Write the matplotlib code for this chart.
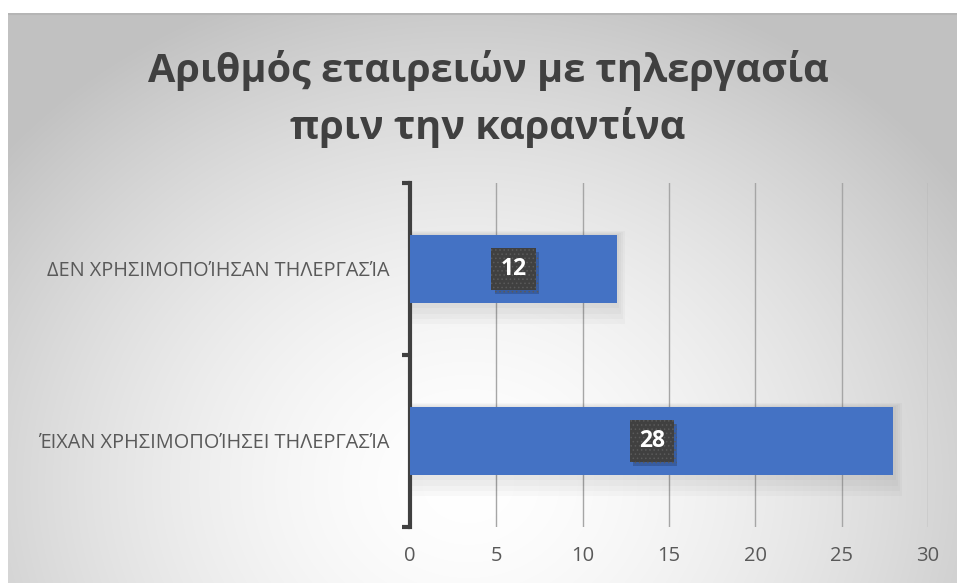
import numpy as np
import matplotlib
matplotlib.use("Agg")
import matplotlib.pyplot as plt
import matplotlib.patheffects as pe

categories = ["ΔΕΝ ΧΡΗΣΙΜΟΠΟΊΗΣΑΝ ΤΗΛΕΡΓΑΣΊΑ", "ΈΙΧΑΝ ΧΡΗΣΙΜΟΠΟΊΗΣΕΙ ΤΗΛΕΡΓΑΣΊΑ"]
values = [12, 28]
xticks = [0, 5, 10, 15, 20, 25, 30]
title = "Αριθμός εταιρειών με τηλεργασία\nπριν την καραντίνα"

plt.rcParams['font.family'] = ['Open Sans', 'DejaVu Sans']
plt.rcParams['hatch.color'] = '#5a5a5a'
plt.rcParams['hatch.linewidth'] = 0.6

W, H = 957, 583
fig = plt.figure(figsize=(W / 100, H / 100), dpi=100)
fig.patch.set_facecolor('white')

# background radial gradient panel
x0, y0 = 8, 13
bg = fig.add_axes([x0 / W, 0, 1 - x0 / W, (H - y0) / H])
bg.set_axis_off()
nx, ny = W - x0, H - y0
xx, yy = np.meshgrid(np.arange(nx), np.arange(ny))
cx, cy = 460, 470
r = np.sqrt(((xx - cx) / 600.0) ** 2 + ((yy - cy) / 520.0) ** 2)
g = np.clip(1.0 - 0.24 * r ** 1.6, 0.76, 1.0)
img = np.dstack([g, g, g])
bg.imshow(img, aspect='auto', extent=[0, nx, ny, 0])
bg.set_xlim(0, nx)
bg.set_ylim(ny, 0)
bg.plot([0, nx], [0.5, 0.5], color='#b5b5b5', lw=1.5)

# main axes
left, right, top, bottom = 410, 928, 183, 527
ax = fig.add_axes([left / W, 1 - bottom / H, (right - left) / W, (bottom - top) / H])
ax.set_facecolor('none')

ypos = np.arange(len(categories))
# soft shadow
for k in range(4):
    ax.barh(ypos + 0.012 * (k + 1), np.array(values) + 0.12 * (k + 1), height=0.40 + 0.035 * (k + 1),
            color='#000000', alpha=0.025, zorder=2, linewidth=0)
ax.barh(ypos, values, height=0.40, color='#4472C4', zorder=3)

ax.set_xlim(0, 30)
ax.set_ylim(1.5, -0.5)
ax.set_xticks(xticks)
ax.set_xticklabels([str(t) for t in xticks], fontsize=14.5, color='#595959')
ax.tick_params(axis='x', length=0, pad=14)
ax.set_yticks(ypos)
ax.set_yticklabels(categories, fontsize=14.3, color='#595959')
ax.tick_params(axis='y', which='major', length=0, pad=15)
ax.set_yticks([-0.5, 0.5, 1.5], minor=True)
ax.tick_params(axis='y', which='minor', length=6, width=3, color='#404040')

for s in ['top', 'right', 'bottom']:
    ax.spines[s].set_visible(False)
ax.spines['left'].set_color('#404040')
ax.spines['left'].set_linewidth(3)

ax.grid(axis='x', color='#a6a6a6', lw=1, zorder=1)
ax.set_axisbelow(True)

for i, v in enumerate(values):
    t = ax.annotate(str(v), (v / 2, i), ha='center', va='center', fontsize=16.5, fontweight='bold',
                    color='white', zorder=5,
                    bbox=dict(boxstyle='square,pad=0.4', fc='#404040', ec='#5a5a5a', lw=0, hatch='....'))
    t.get_bbox_patch().set_path_effects([
        pe.SimplePatchShadow(offset=(2.5, -3), shadow_rgbFace='#1f3864', alpha=0.35),
        pe.Normal()])

fig.text(488 / W, 1 - 99 / H, title, ha='center', va='center', fontsize=28.5, fontweight='bold',
         color='#404040', linespacing=1.52)

fig.savefig('out.png', dpi=100)
